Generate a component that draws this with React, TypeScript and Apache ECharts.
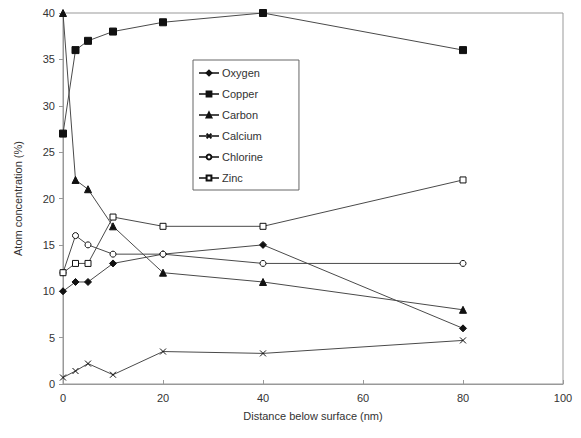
import React, { useEffect, useRef } from "react";
import * as echarts from "echarts";

const depth = [0, 2.5, 5, 10, 20, 40, 80];
const oxygen = [10, 11, 11, 13, 14, 15, 6];
const copper = [27, 36, 37, 38, 39, 40, 36];
const carbon = [40, 22, 21, 17, 12, 11, 8];
const calcium = [0.7, 1.4, 2.2, 1, 3.5, 3.3, 4.7];
const chlorine = [12, 16, 15, 14, 14, 13, 13];
const zinc = [12, 13, 13, 18, 17, 17, 22];

const seriesNames = ["Oxygen", "Copper", "Carbon", "Calcium", "Chlorine", "Zinc"];
const seriesValues = [oxygen, copper, carbon, calcium, chlorine, zinc];

const LINE = "#4a4a4a";
const FONT = "Liberation Sans";

const symbolFor: Record<string, any> = {
  Oxygen: { symbol: "diamond", size: 7, fill: "#111" },
  Copper: { symbol: "rect", size: 7, fill: "#111" },
  Carbon: { symbol: "triangle", size: 7, fill: "#111" },
  Calcium: { symbol: "path://M0,0L10,10M10,0L0,10", size: 6, fill: "none" },
  Chlorine: { symbol: "circle", size: 6, fill: "#fff" },
  Zinc: { symbol: "rect", size: 6, fill: "#fff" },
};

export default function App() {
  const ref = useRef<HTMLDivElement>(null);
  useEffect(() => {
    const chart = echarts.init(ref.current!, null, { renderer: "svg" });
    chart.setOption({
      animation: false,
      backgroundColor: "#fff",
      textStyle: { fontFamily: FONT },
      grid: {
        left: 63,
        right: 18,
        top: 13,
        bottom: 54,
        show: true,
        borderColor: "#999",
        borderWidth: 1,
      },
      legend: {
        orient: "vertical",
        left: 193,
        top: 60,
        padding: [7, 36, 6, 5],
        borderColor: "#666",
        borderWidth: 1,
        backgroundColor: "#fff",
        itemWidth: 20,
        itemHeight: 6,
        itemGap: 9,
        data: seriesNames,
        textStyle: { fontFamily: FONT, fontSize: 11, color: "#333", padding: [0, 0, 0, -2], lineHeight: 12 },
      },
      xAxis: {
        type: "value",
        min: 0,
        max: 100,
        interval: 20,
        name: "Distance below surface (nm)",
        nameLocation: "middle",
        nameGap: 26,
        nameTextStyle: { fontFamily: FONT, fontSize: 11, color: "#333" },
        axisLine: { lineStyle: { color: "#999" } },
        axisTick: { inside: true, length: 4, lineStyle: { color: "#999" } },
        axisLabel: { fontFamily: FONT, fontSize: 11, color: "#333", margin: 8 },
        splitLine: { show: false },
      },
      yAxis: {
        type: "value",
        min: 0,
        max: 40,
        interval: 5,
        name: "Atom concentration (%)",
        nameLocation: "middle",
        nameGap: 40,
        nameTextStyle: { fontFamily: FONT, fontSize: 11, color: "#333" },
        axisLine: { show: true, lineStyle: { color: "#999" } },
        axisTick: { show: true, length: 4, lineStyle: { color: "#999" } },
        axisLabel: { fontFamily: FONT, fontSize: 11, color: "#333", margin: 8 },
        splitLine: { show: false },
      },
      series: seriesNames.map((name, i) => {
        const s = symbolFor[name];
        return {
          name,
          type: "line",
          data: depth.map((x, j) => [x, seriesValues[i][j]]),
          symbol: s.symbol,
          symbolSize: s.size,
          showAllSymbol: true,
          lineStyle: { color: LINE, width: 1 },
          itemStyle: {
            color: s.fill,
            borderColor: "#111",
            borderWidth: 1,
          },
          emphasis: { disabled: true },
        };
      }),
    });
    return () => chart.dispose();
  }, []);
  return (
    <div
      ref={ref}
      style={{ position: "fixed", left: 0, top: 0, width: 581, height: 438 }}
    />
  );
}
